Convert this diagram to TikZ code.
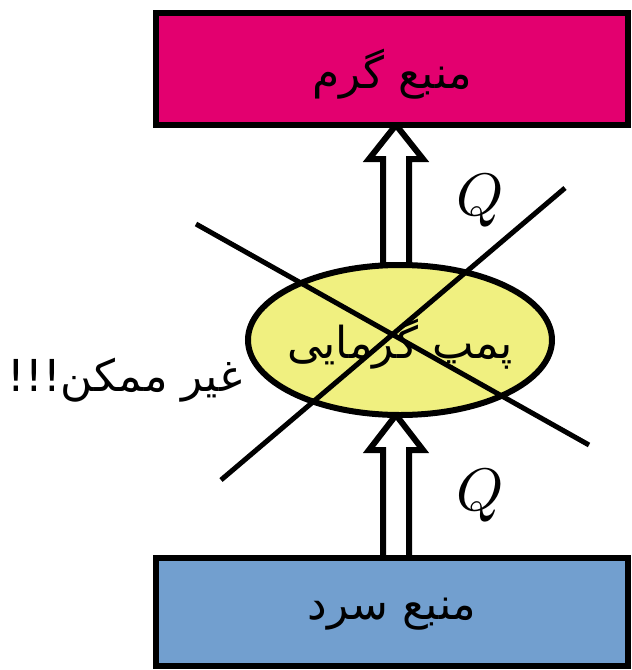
\documentclass[tikz,border=0pt]{standalone}
\usepackage{fontspec}
\usetikzlibrary{calc,shapes.geometric}
\newfontfamily\arabicfont[Script=Arabic]{DejaVu Sans}
\TeXXeTstate=1
\pgfdeclarelayer{background}
\pgfsetlayers{background,main}
\definecolor{hotpink}{HTML}{E3006F}
\definecolor{coldblue}{HTML}{729FCF}
\definecolor{pumpyellow}{HTML}{F0F080}
\tikzset{
  reservoir/.style={draw=black, line width=6pt, rectangle, inner sep=0pt, outer sep=0pt,
    minimum width=472pt, text=black},
  pumpell/.style={draw=black, line width=6pt, ellipse, fill=pumpyellow, inner sep=0pt, outer sep=0pt,
    minimum width=304pt, minimum height=150pt},
  fatarrow/.style={draw=black, fill=white, line width=6pt, line join=miter, miter limit=10},
  crossline/.style={draw=black, line width=5pt},
  artext/.style={font=\arabicfont\fontsize{44}{48}\selectfont, inner sep=0pt},
  qlabel/.style={scale=6, inner sep=0pt, anchor=base west},
}
\begin{document}
\begin{tikzpicture}[x=1pt, y=-1pt]
\useasboundingbox (0,0) rectangle (632,670);
% nodes
\node[reservoir, fill=hotpink, minimum height=112pt] (hot) at (392,69) {};
\node[artext] (hottext) at (392,74) {\beginR منبع گرم\endR};
\node[reservoir, fill=coldblue, minimum height=108pt] (cold) at (392,612) {};
\node[artext] (coldtext) at (392,614) {\beginR منبع سرد\endR};
\node[pumpell] (pump) at (400,340) {};
\node[artext] (pumptext) at (400,344) {\beginR پمپ گرمایی\endR};
\node[artext] (imposs) at (125,380) {\beginR غیر ممکن!!!\endR};
\node[qlabel] (qtop) at (455,215) {$Q$};
\node[qlabel] (qbot) at (455,510) {$Q$};
% arrows (behind)
\begin{pgfonlayer}{background}
\coordinate (ua) at (396,0);
\path[fatarrow] ($(ua |- pump.north)+(-13,0)$) -- ($(ua |- hot.south)+(-13,34)$)
  -- ($(ua |- hot.south)+(-27,34)$) -- (ua |- hot.south)
  -- ($(ua |- hot.south)+(27,34)$) -- ($(ua |- hot.south)+(13,34)$)
  -- ($(ua |- pump.north)+(13,0)$) -- cycle;
\path[fatarrow] ($(ua |- cold.north)+(-13,0)$) -- ($(ua |- pump.south)+(-13,35)$)
  -- ($(ua |- pump.south)+(-27,35)$) -- (ua |- pump.south)
  -- ($(ua |- pump.south)+(27,35)$) -- ($(ua |- pump.south)+(13,35)$)
  -- ($(ua |- cold.north)+(13,0)$) -- cycle;
\end{pgfonlayer}
% cross
\coordinate (c1a) at (196,224);
\coordinate (c1b) at (589,445);
\coordinate (c2a) at (565,188);
\coordinate (c2b) at (221,480);
\draw[crossline] (c1a) -- (c1b);
\draw[crossline] (c2a) -- (c2b);
\end{tikzpicture}
\end{document}
